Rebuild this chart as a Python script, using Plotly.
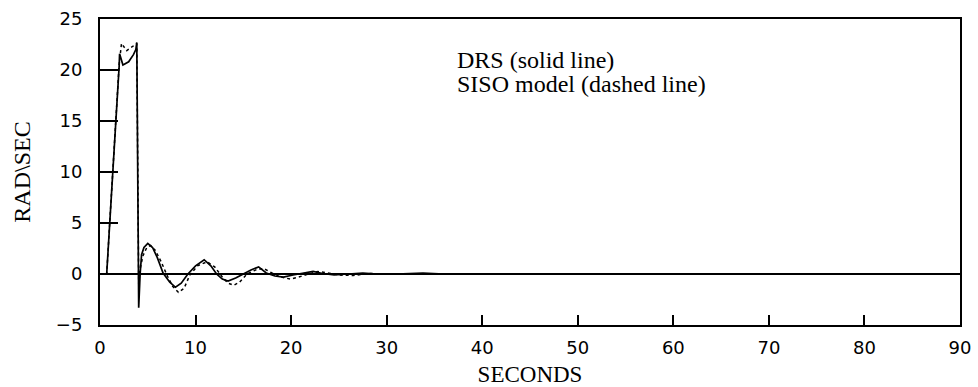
import plotly.graph_objects as go

# DRS (solid line)
drs_t = [0, 0.7, 2.0, 2.05, 2.4, 3.0, 3.5, 3.75, 3.85, 4.05, 4.2, 4.35, 4.6, 5.0, 5.5, 6.0, 6.6, 7.3, 7.9,
         8.5, 9.2, 10.0, 10.9, 11.6, 12.2, 12.8, 13.4, 14.2, 15.0, 15.8, 16.6, 17.4, 18.3, 19.2, 20.2,
         21.3, 22.3, 23.3, 24.5, 26.0, 27.5, 29.0, 31.0, 33.8, 36.0, 40.0, 50.0, 60.0, 70.0, 80.0, 90.0]
drs_v = [0, 0, 20.3, 21.6, 20.5, 20.8, 21.5, 22.0, 22.7, -3.3, 0.0, 1.9, 2.6, 3.0, 2.6, 1.6, 0.1, -0.8, -1.3,
         -0.9, 0.0, 0.8, 1.4, 0.8, 0.0, -0.5, -0.7, -0.4, 0.0, 0.4, 0.7, 0.1, -0.2, -0.3, -0.1,
         0.1, 0.25, 0.05, -0.1, 0.0, 0.1, 0.0, 0.0, 0.1, 0.0, 0.0, 0.0, 0.0, 0.0, 0.0, 0.0]

# SISO model (dashed line)
siso_t = [0, 0.7, 2.0, 2.25, 2.8, 3.3, 3.6, 3.85, 4.05, 4.2, 4.5, 4.9, 5.3, 5.8, 6.4, 7.0, 7.6, 8.2, 8.8,
          9.4, 10.2, 11.2, 12.0, 12.8, 13.4, 14.0, 14.6, 15.4, 16.3, 17.1, 18.0, 19.0, 19.9, 20.8, 21.8,
          22.8, 23.8, 25.0, 26.5, 28.0, 30.0, 33.0, 36.0, 40.0, 90.0]
siso_v = [0, 0, 20.5, 22.6, 21.9, 22.2, 22.4, 22.6, -1.0, 0.5, 1.8, 2.6, 2.8, 2.3, 1.2, -0.1, -1.2, -1.8, -1.4,
          -0.1, 0.8, 1.2, 0.7, -0.3, -0.9, -1.1, -0.8, 0.0, 0.4, 0.55, 0.1, -0.3, -0.5, -0.3, 0.0,
          0.25, 0.1, -0.1, -0.15, 0.05, 0.0, 0.0, 0.0, 0.0, 0.0]

x_ticks = [0, 10, 20, 30, 40, 50, 60, 70, 80, 90]
y_ticks = [-5, 0, 5, 10, 15, 20, 25]

legend_lines = ["DRS (solid line)", "SISO model (dashed line)"]

fig = go.Figure()
fig.add_trace(go.Scatter(x=siso_t, y=siso_v, mode="lines",
                         line=dict(color="black", width=1.5, dash="dot"), name="SISO model"))
fig.add_trace(go.Scatter(x=drs_t, y=drs_v, mode="lines",
                         line=dict(color="black", width=1.7), name="DRS"))

tickfont = dict(family="DejaVu Sans", size=18, color="black")

fig.update_layout(
    width=978, height=387,
    margin=dict(l=100, r=18, t=19, b=62, autoexpand=False),
    paper_bgcolor="white", plot_bgcolor="white",
    showlegend=False,
    xaxis=dict(range=[0, 90], tickvals=x_ticks, ticks="inside", ticklen=10, tickwidth=1.5,
               tickcolor="black", showline=True, linecolor="black", linewidth=2, mirror=True,
               showgrid=False, zeroline=False, tickfont=tickfont, ticklabelstandoff=5,
               automargin=False,
               title=dict(text="SECONDS", font=dict(family="Liberation Serif", size=23, color="black"),
                          standoff=11)),
    yaxis=dict(range=[-5, 25], tickvals=y_ticks, ticks="inside", ticklen=18, tickwidth=1.5,
               tickcolor="black", showline=True, linecolor="black", linewidth=2, mirror=True,
               showgrid=False, zeroline=True, zerolinecolor="black", zerolinewidth=1.5,
               tickfont=tickfont, ticklabelstandoff=12, automargin=False,
               title=dict(text="RAD\\SEC", font=dict(family="Liberation Serif", size=24, color="black"),
                          standoff=18)),
    annotations=[
        dict(x=37.1, y=22.5, xref="x", yref="y", xanchor="left", yanchor="top",
             align="left", showarrow=False, text=legend_lines[0],
             font=dict(family="Liberation Serif", size=24, color="black")),
        dict(x=37.1, y=20.1, xref="x", yref="y", xanchor="left", yanchor="top",
             align="left", showarrow=False, text=legend_lines[1],
             font=dict(family="Liberation Serif", size=24, color="black")),
    ],
)

fig.write_html("out.html")
